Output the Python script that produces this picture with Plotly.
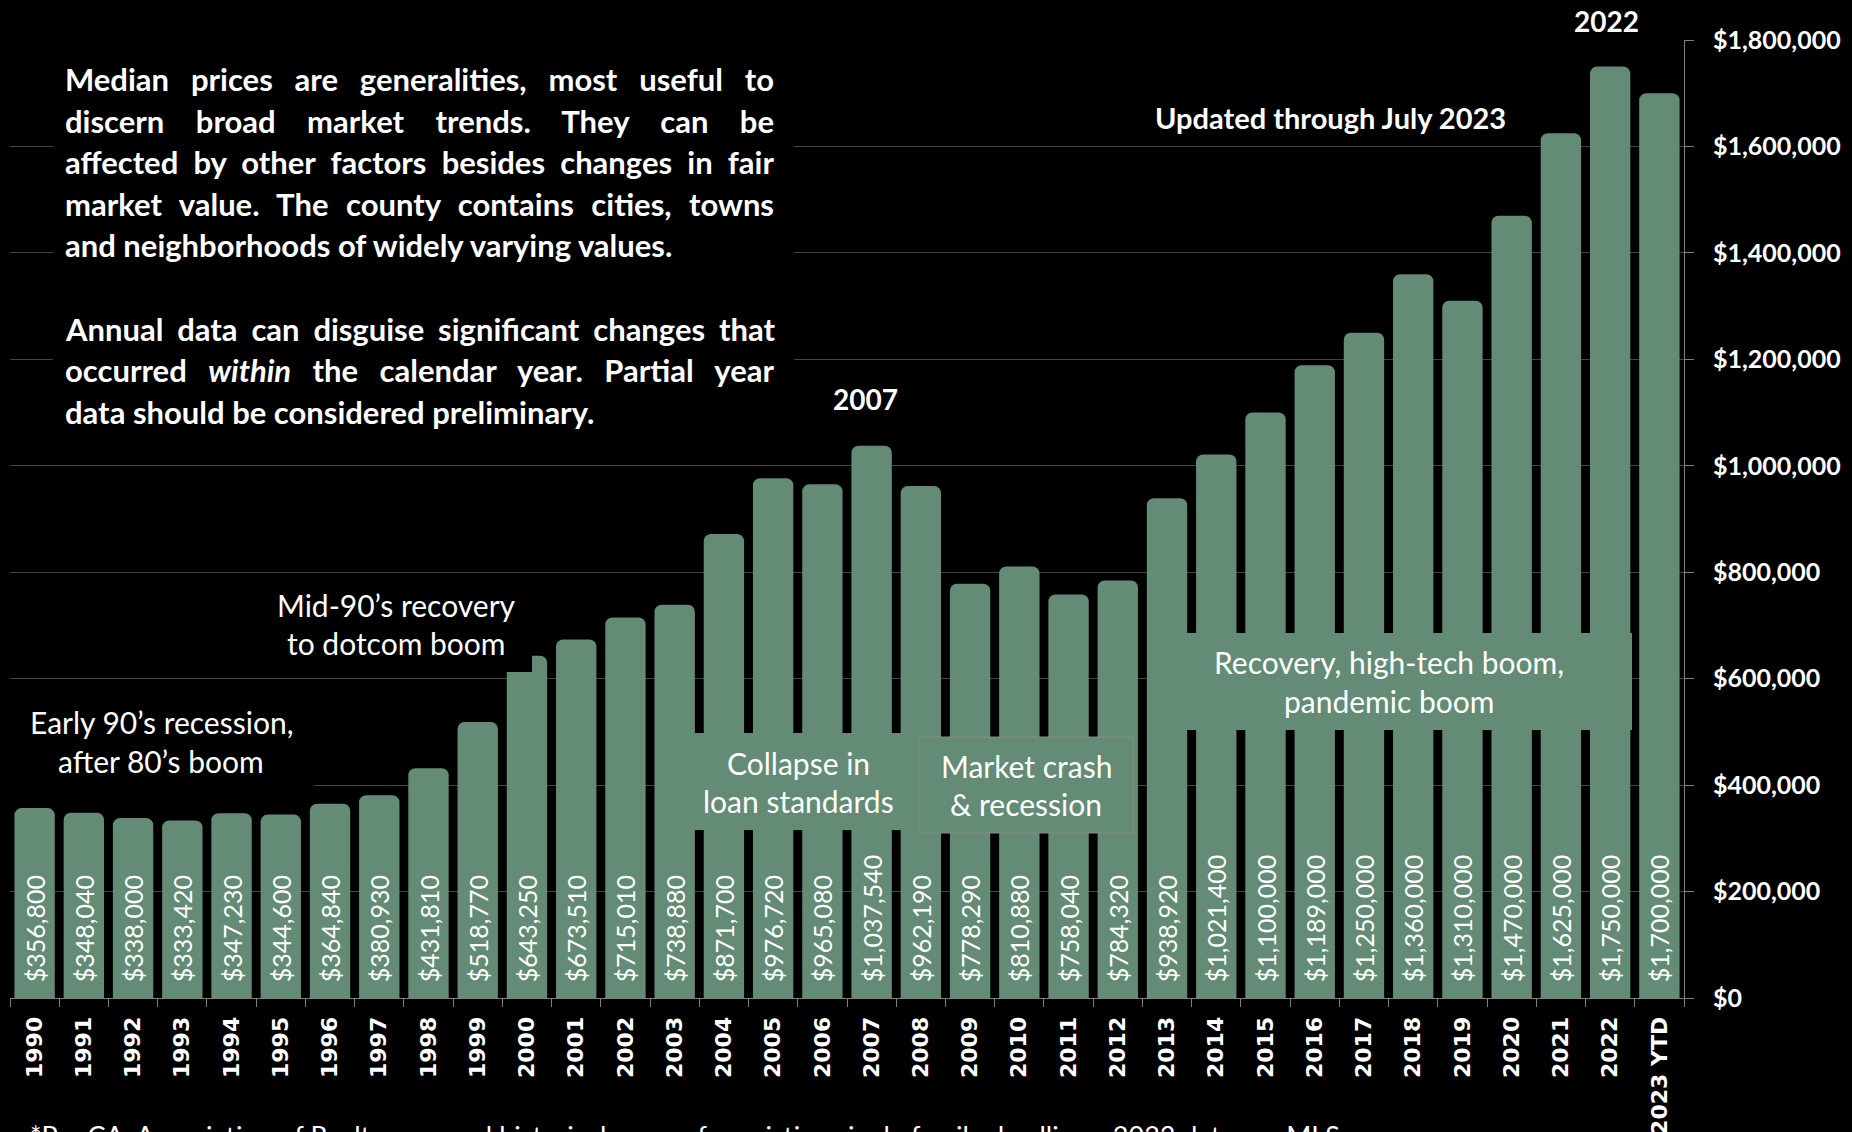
import json
import plotly.graph_objects as go

# Median single-family home price by year
years = ["1990", "1991", "1992", "1993", "1994", "1995", "1996", "1997", "1998", "1999",
         "2000", "2001", "2002", "2003", "2004", "2005", "2006", "2007", "2008", "2009",
         "2010", "2011", "2012", "2013", "2014", "2015", "2016", "2017", "2018", "2019",
         "2020", "2021", "2022", "2023 YTD"]
median_price = [356800, 348040, 338000, 333420, 347230, 344600, 364840, 380930, 431810, 518770,
                643250, 673510, 715010, 738880, 871700, 976720, 965080, 1037540, 962190, 778290,
                810880, 758040, 784320, 938920, 1021400, 1100000, 1189000, 1250000, 1360000, 1310000,
                1470000, 1625000, 1750000, 1700000]

y_ticks = [0, 200000, 400000, 600000, 800000, 1000000, 1200000, 1400000, 1600000, 1800000]

note_lines = [
    ("Median prices are generalities, most useful to", True),
    ("discern broad market trends. They can be", True),
    ("affected by other factors besides changes in fair", True),
    ("market value. The county contains cities, towns", True),
    ("and neighborhoods of widely varying values.", False),
    ("Annual data can disguise significant changes that", True),
    ("occurred <i>within</i> the calendar year. Partial year", True),
    ("data should be considered preliminary.", False),
]
note_rows = [0, 1, 2, 3, 4, 6, 7, 8]

footnote = ("*Per CA. Association of Realtors annual historical survey for existing "
            "single family dwellings. 2023 data per MLS.")

# page geometry (pixels)
W, H = 1852, 1132
ML, MR, MT, MB = 10, 168, 40, 134
PW, PH = W - ML - MR, H - MT - MB


def fx(px):
    return (px - ML) / PW


def fy(py):
    return (H - MB - py) / PH


BAR = "#638B75"
GRID = "#444444"
AXIS = "#808080"
WHITE = "#FFFFFF"
SANS = "Lato"

fig = go.Figure()
fig.add_trace(go.Bar(
    x=years,
    y=median_price,
    marker=dict(color=BAR, line=dict(width=0), cornerradius=7),
    texttemplate="\u00a0\u00a0$%{y:,}",
    textposition="inside",
    insidetextanchor="start",
    textangle=-90,
    constraintext="none",
    textfont=dict(family=SANS, size=25, color=WHITE),
    hoverinfo="skip",
))

shapes = []
annotations = []


def box(x0, y0, x1, y1, fill, border=None):
    shapes.append(dict(
        type="rect", xref="paper", yref="paper", layer="above",
        x0=fx(x0), x1=fx(x1), y0=fy(y1), y1=fy(y0),
        fillcolor=fill,
        line=dict(width=1 if border else 0, color=border or fill),
    ))


def label(text, x, y, size, bold=False, xanchor="center", align="center", yanchor="middle"):
    annotations.append(dict(
        text=text, xref="paper", yref="paper", x=fx(x), y=fy(y),
        xanchor=xanchor, yanchor=yanchor, align=align, showarrow=False,
        borderpad=0,
        font=dict(family=SANS, size=size, color=WHITE, weight="bold" if bold else "normal"),
    ))
    return len(annotations) - 1


def year_label(year, shift, y, size):
    annotations.append(dict(
        text=year, x=years.index(year), xref="x", xshift=shift, y=fy(y), yref="paper",
        showarrow=False, xanchor="center", yanchor="middle",
        font=dict(family=SANS, size=size, color=WHITE, weight="bold"),
    ))


# explanatory note, top left
box(53, 53, 794, 449, "black")
NOTE_LEFT, NOTE_RIGHT = 64, 773
justify_targets = []
for (line, just), row in zip(note_lines, note_rows):
    idx = label(line, NOTE_LEFT, 79 + row * 41.6, 31, bold=True, xanchor="left", align="left")
    if just:
        justify_targets.append([idx, NOTE_RIGHT - NOTE_LEFT])

# era call-outs
box(10, 695, 314, 792, "black")
label("Early 90\u2019s recession,", 161, 722, 30)
label("after 80\u2019s boom", 161, 761, 30)

box(250, 580, 532, 672, "black")
label("Mid-90\u2019s recovery", 396, 605, 30)
label("to dotcom boom", 396, 643, 30)

box(694, 733, 917, 830, BAR)
label("Collapse in", 798, 763, 30)
label("loan standards", 798, 801, 30)

box(919, 737, 1133, 833, BAR, border="#8a8a8a")
label("Market crash", 1026, 766, 30)
label("& recession", 1026, 804, 30)

box(1147, 633, 1632, 730, BAR)
label("Recovery, high-tech boom,", 1389, 662, 30)
label("pandemic boom", 1389, 701, 30)

# peak years
year_label("2007", -6, 399, 28)
box(1543, 0, 1668, 54, "black")
year_label("2022", -4, 21, 28)
label("Updated through July 2023", 1330, 117, 29, bold=True)

# source note along the bottom edge
label(footnote, 29, 1118, 27, xanchor="left", align="left", yanchor="top")

fig.update_layout(
    width=W, height=H,
    margin=dict(l=ML, r=MR, t=MT, b=MB, autoexpand=False),
    paper_bgcolor="black", plot_bgcolor="black",
    bargap=0.18,
    showlegend=False,
    shapes=shapes,
    annotations=annotations,
    xaxis=dict(
        type="category", range=[-0.5, len(years) - 0.5], automargin=False,
        showgrid=False, zeroline=False,
        showline=True, linecolor=AXIS, linewidth=1,
        ticks="outside", tickson="boundaries", ticklen=8, tickcolor=AXIS, tickwidth=1,
        tickangle=-90, ticklabelstandoff=9,
        tickfont=dict(family="DejaVu Sans", size=22, color=WHITE, weight="bold"),
    ),
    yaxis=dict(
        side="right", range=[0, 1800000], automargin=False,
        tickvals=y_ticks, tickformat="$,",
        showgrid=True, gridcolor=GRID, gridwidth=1, zeroline=False,
        showline=True, linecolor=AXIS, linewidth=1,
        ticks="outside", ticklen=9, tickcolor=AXIS, tickwidth=1,
        ticklabelstandoff=14,
        tickfont=dict(family=SANS, size=25, color=WHITE, weight="bold"),
    ),
)

# full justification for the paragraph lines: spread the spare width over the word gaps
justify_js = """
var gd = document.getElementById('{plot_id}');
var targets = %s;
function justifyNote() {
  targets.forEach(function (p) {
    var g = gd.querySelector('g.annotation[data-index="' + p[0] + '"]');
    if (!g) return;
    var t = g.querySelector('text.annotation-text');
    if (!t) return;
    t.style.wordSpacing = '0px';
    var n = (t.textContent.match(/ /g) || []).length;
    var w = t.getComputedTextLength();
    if (n > 0) t.style.wordSpacing = ((p[1] - w) / n) + 'px';
  });
}
justifyNote();
gd.on('plotly_afterplot', justifyNote);
""" % json.dumps(justify_targets)

fig.write_html("out.html", post_script=justify_js, config={"displayModeBar": False})
